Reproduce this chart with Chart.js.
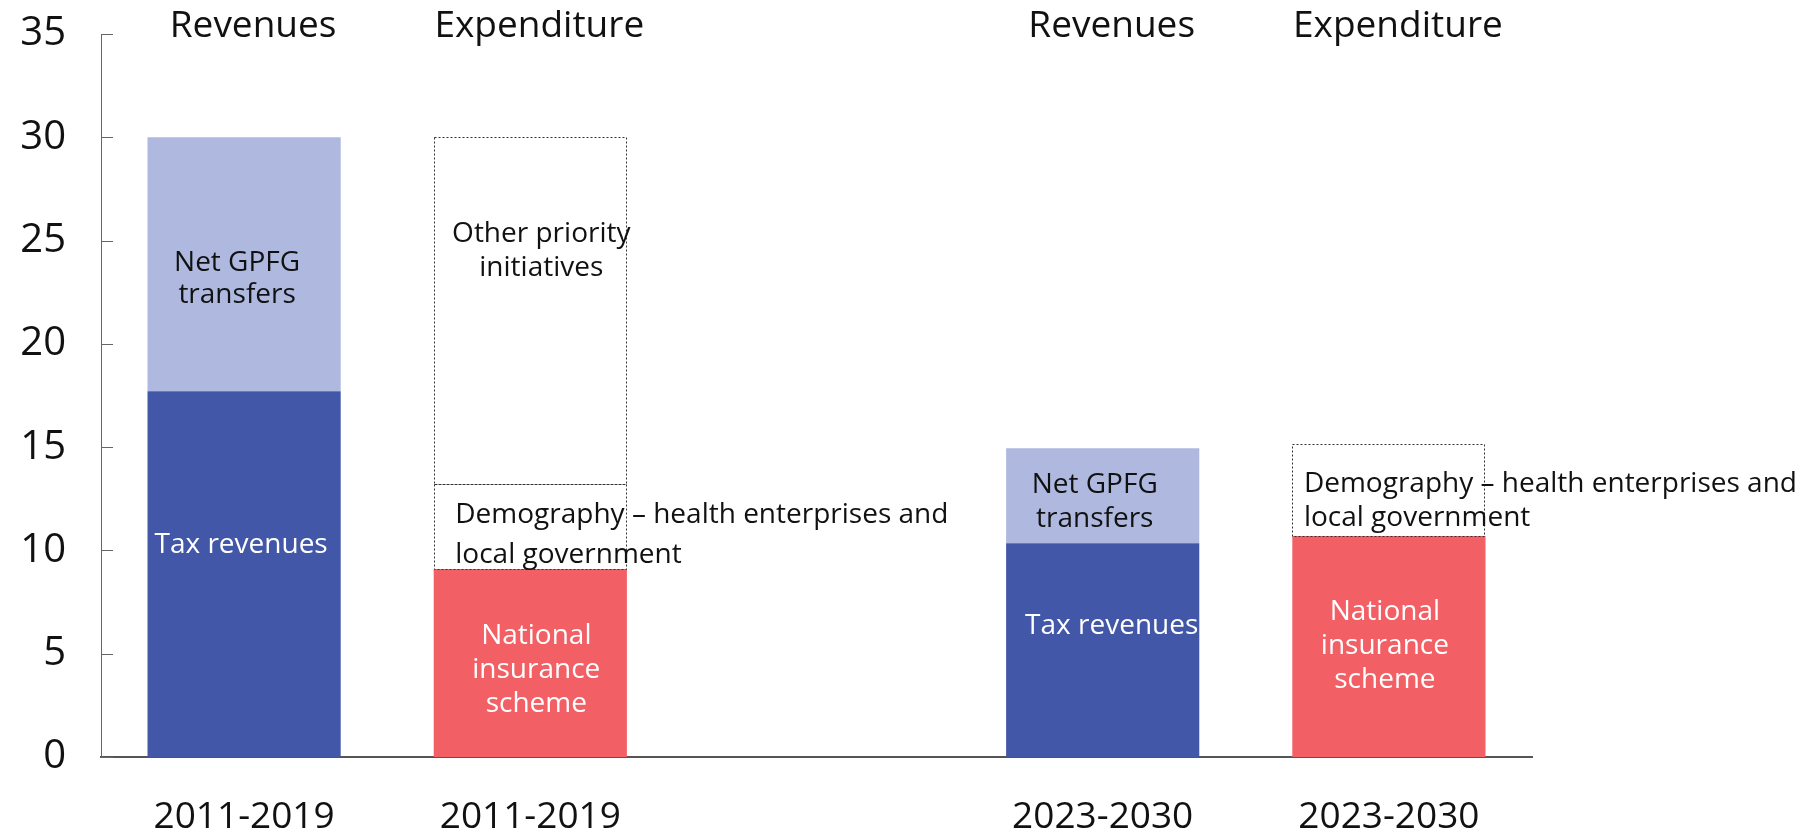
<!DOCTYPE html>
<html>
<head>
<meta charset="utf-8">
<script src="https://cdn.jsdelivr.net/npm/chart.js@4"></script>
<style>
    body { margin: 0; background: #fff; }
    #wrap { width: 1806px; height: 829px; position: relative; }
</style>
</head>
<body>
<div id="wrap"><canvas id="chart"></canvas></div>
<script>
// Chart data
const categories = ['2011-2019', '2011-2019', '', '2023-2030', '2023-2030'];
const headers = ['Revenues', 'Expenditure', '', 'Revenues', 'Expenditure'];
const taxRevenues = [17.7, null, null, 10.35, null];
const netGpfgTransfers = [12.3, null, null, 4.6, null];
const nationalInsurance = [null, 9.1, null, null, 10.7];
const demography = [null, 4.1, null, null, 4.45];
const otherPriority = [null, 16.8, null, null, null];

const FONT = "'Open Sans', 'Noto Sans', sans-serif";

// Labels written inside / next to the bars (y in data units, dx in px from bar centre)
const barLabels = [
    { bar: 0, y: 10.28, dx: -3, lines: ['Tax revenues'], color: '#fff' },
    { bar: 0, y: 23.15, dx: -7, lines: ['Net GPFG', 'transfers'], color: '#111', lineH: 32 },
    { bar: 1, y: 24.5, dx: 11, lines: ['Other priority', 'initiatives'], color: '#111' },
    { bar: 1, y: 10.75, dx: -75, lines: ['Demography \u2013 health enterprises and', 'local government'], color: '#111', align: 'left', lineH: 40 },
    { bar: 1, y: 4.2, dx: 6, lines: ['National', 'insurance', 'scheme'], color: '#fff' },
    { bar: 3, y: 12.35, dx: -8, lines: ['Net GPFG', 'transfers'], color: '#111' },
    { bar: 3, y: 6.35, dx: 9, lines: ['Tax revenues'], color: '#fff' },
    { bar: 4, y: 12.4, dx: -85, lines: ['Demography \u2013 health enterprises and', 'local government'], color: '#111', align: 'left' },
    { bar: 4, y: 5.38, dx: -4, lines: ['National', 'insurance', 'scheme'], color: '#fff' }
];

const annotationsPlugin = {
    id: 'annotations',
    afterDatasetsDraw(chart) {
        const ctx = chart.ctx;
        const xScale = chart.scales.x;
        const yScale = chart.scales.y;
        const area = chart.chartArea;

        // dotted outlines for the white boxes
        chart.data.datasets.forEach((ds, di) => {
            if (!ds.dotted) return;
            const meta = chart.getDatasetMeta(di);
            meta.data.forEach((el, i) => {
                if (ds.data[i] == null) return;
                const p = el.getProps(['x', 'y', 'base', 'width'], true);
                const left = Math.round(p.x - p.width / 2) + 0.5;
                const right = Math.round(p.x + p.width / 2) - 0.5;
                const top = Math.round(p.y) + 0.5;
                const bottom = Math.round(p.base) + 0.5;
                ctx.save();
                ctx.strokeStyle = '#333';
                ctx.lineWidth = 1;
                ctx.setLineDash([2, 2]);
                ctx.strokeRect(left, top, right - left, bottom - top);
                ctx.restore();
            });
        });

        // inward tick marks on the y axis
        ctx.save();
        ctx.strokeStyle = '#666';
        ctx.lineWidth = 1;
        yScale.ticks.forEach(t => {
            const y = Math.round(yScale.getPixelForValue(t.value)) + 0.5;
            ctx.beginPath();
            ctx.moveTo(area.left, y);
            ctx.lineTo(area.left + 12, y);
            ctx.stroke();
        });
        ctx.restore();

        // labels inside the bars
        ctx.save();
        ctx.font = `28px ${FONT}`;
        ctx.textBaseline = 'middle';
        barLabels.forEach(lbl => {
            const cx = xScale.getPixelForValue(lbl.bar);
            const cy = yScale.getPixelForValue(lbl.y);
            const lineH = lbl.lineH || 34;
            const start = cy - (lbl.lines.length - 1) * lineH / 2;
            ctx.fillStyle = lbl.color;
            ctx.textAlign = lbl.align || 'center';
            lbl.lines.forEach((line, k) => {
                ctx.fillText(line, cx + lbl.dx, start + k * lineH);
            });
        });

        // column headers above the plot
        ctx.font = `37px ${FONT}`;
        ctx.fillStyle = '#111';
        ctx.textAlign = 'center';
        headers.forEach((h, i) => {
            if (!h) return;
            ctx.fillText(h, xScale.getPixelForValue(i) + 9, area.top - 8);
        });
        ctx.restore();
    }
};

new Chart(document.getElementById('chart'), {
    type: 'bar',
    data: {
        labels: categories,
        datasets: [
            { label: 'Tax revenues', data: taxRevenues, backgroundColor: '#4257A7' },
            { label: 'Net GPFG transfers', data: netGpfgTransfers, backgroundColor: '#AFB9E0' },
            { label: 'National insurance scheme', data: nationalInsurance, backgroundColor: '#F25F64' },
            { label: 'Demography', data: demography, backgroundColor: '#fff', dotted: true },
            { label: 'Other priority initiatives', data: otherPriority, backgroundColor: '#fff', dotted: true }
        ]
    },
    options: {
        responsive: true,
        maintainAspectRatio: false,
        animation: false,
        layout: { padding: { top: 34, right: 274, left: 0, bottom: 0 } },
        datasets: {
            bar: { categoryPercentage: 1, barPercentage: 0.675, stack: 'all', borderWidth: 0 }
        },
        plugins: {
            legend: { display: false },
            tooltip: { enabled: false }
        },
        scales: {
            x: {
                stacked: true,
                grid: { display: false },
                border: { display: true, color: '#555', width: 2 },
                ticks: {
                    color: '#111',
                    font: { family: FONT, size: 37 },
                    padding: 30,
                    maxRotation: 0,
                    autoSkip: false
                },
                afterFit(scale) { scale.height = 72; }
            },
            y: {
                stacked: true,
                min: 0,
                max: 35,
                grid: { display: false },
                border: { display: true, color: '#666', width: 1 },
                ticks: {
                    stepSize: 5,
                    color: '#111',
                    font: { family: FONT, size: 40 },
                    padding: 27
                },
                afterFit(scale) {
                    scale.width = 101;
                    scale.paddingTop = 0;
                    scale.paddingBottom = 0;
                }
            }
        }
    },
    plugins: [annotationsPlugin]
});
</script>
</body>
</html>
